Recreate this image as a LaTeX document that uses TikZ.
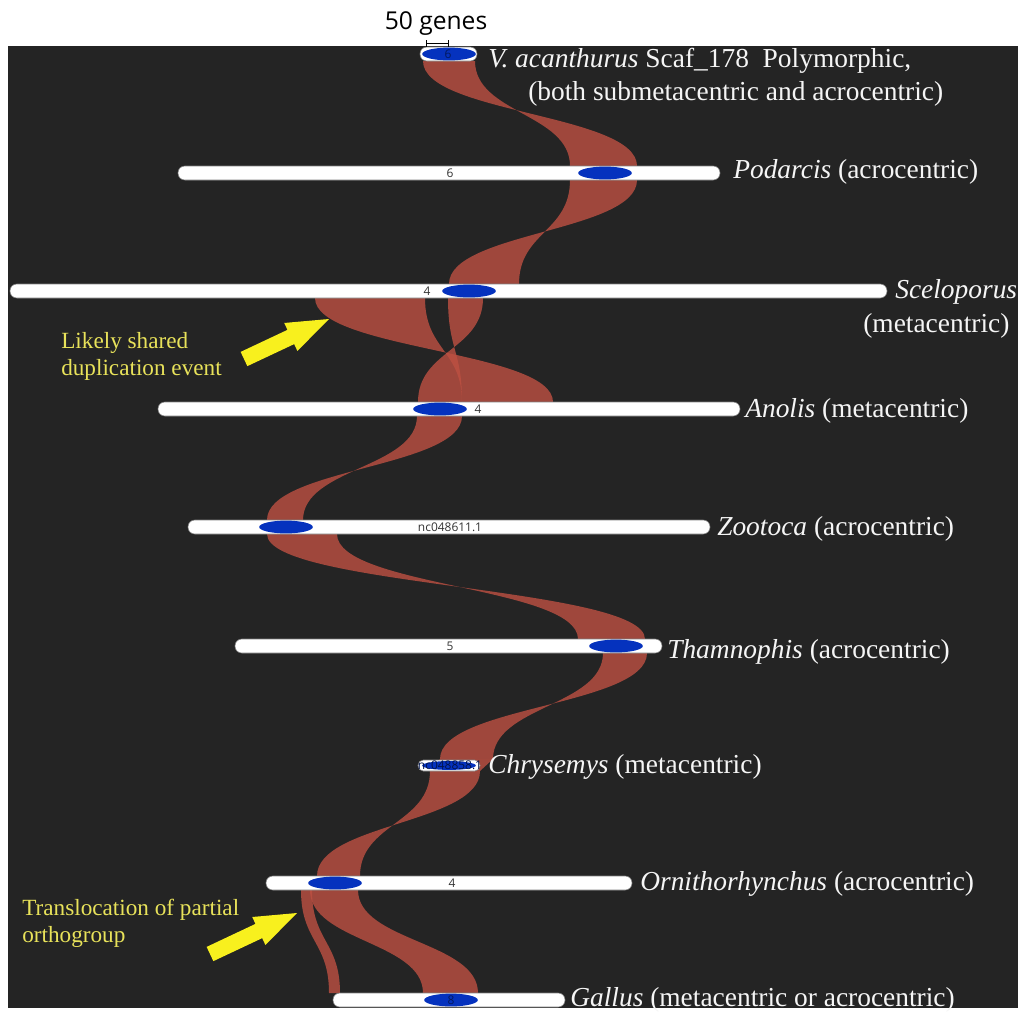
\documentclass[tikz,border=0pt]{standalone}
\usepackage{fontspec}
\setmainfont{Liberation Serif}
\newfontfamily\labfont{Open Sans}
\usetikzlibrary{calc}
\definecolor{bgc}{RGB}{36,36,36}
\definecolor{ribc}{RGB}{190,80,66}
\definecolor{ellc}{RGB}{5,50,190}
\definecolor{yelt}{RGB}{232,226,90}
\definecolor{yela}{RGB}{248,240,30}
\definecolor{spc}{RGB}{245,245,245}
\newcommand\ribbon[6]{%
  \fill[rib] (#1,#3) .. controls (#1,{(#3+#6)/2}) and (#4,{(#3+#6)/2}) .. (#4,#6)
    -- (#5,#6) .. controls (#5,{(#3+#6)/2}) and (#2,{(#3+#6)/2}) .. (#2,#3) -- cycle;}
\newcommand\chrom[5]{%
  \draw[barst] (#2,#4-7) rectangle (#3,#4+7);
  \fill[ell] (#5,#4) ellipse [x radius=0.67cm, y radius=0.16cm];
  \coordinate (#1) at ({(#2+#3)/2},#4);}
\newcommand\yarrow[2]{%
  \fill[yela] ($(#1)!5.6pt!-90:(#2)$) -- ($($(#2)!30pt!(#1)$)!5.6pt!-90:(#2)$)
    -- ($($(#2)!30pt!(#1)$)!11pt!-90:(#2)$) -- (#2)
    -- ($($(#2)!30pt!(#1)$)!11pt!90:(#2)$) -- ($($(#2)!30pt!(#1)$)!5.6pt!90:(#2)$)
    -- ($(#1)!5.6pt!90:(#2)$) -- cycle;}
\begin{document}
\begin{tikzpicture}[x=0.025cm,y=-0.025cm,
  rib/.style={fill=ribc, fill opacity=0.8},
  barst/.style={fill=white, draw=gray, line width=0.4pt, rounded corners=0.17cm},
  ell/.style={fill=ellc},
  lab/.style={font=\labfont\fontsize{8.5}{9}\selectfont, text=black!80, inner sep=0},
  sp/.style={text=spc, font=\fontsize{19.5}{23}\selectfont, anchor=base west, inner sep=0},
  note/.style={text=yelt, font=\fontsize{16.5}{20}\selectfont, anchor=base west, inner sep=0}]
\fill[white] (0,0) rectangle (1018,1010);
\fill[bgc] (8,46) rectangle (1018,1008);
% ribbons
\ribbon{423}{475}{61}{637}{570}{166}
\ribbon{570}{637}{180}{519}{449}{284}
\ribbon{315}{425}{298}{553}{462}{402}
\ribbon{448}{483}{298}{462}{418}{402}
\ribbon{417}{462}{416}{303}{267}{520}
\ribbon{267}{337}{534}{645}{578}{639}
\ribbon{603}{647}{653}{493}{440}{759}
\fill[rib] (440,759) -- (493,759) -- (480,771) -- (430,771) -- cycle;
\ribbon{430}{480}{771}{360}{317}{876}
\ribbon{310}{358}{890}{423}{478}{993}
\ribbon{301}{312}{890}{329}{340}{993}
% chromosomes
\chrom{vac}{420}{477}{54}{449}
\chrom{pod}{178}{720}{173}{605}
\chrom{sce}{10}{887}{291}{469}
\chrom{ano}{158}{740}{409}{440}
\chrom{zoo}{188}{710}{527}{286}
\chrom{tha}{235}{662}{646}{616}
\draw[barst, rounded corners=0.13cm] (418,760) rectangle (480,771);
\fill[ell] (449,765.5) ellipse [x radius=0.67cm, y radius=0.11cm];
\coordinate (chr) at (449,765.5);
\chrom{orn}{266}{632}{883}{335}
\chrom{gal}{333}{565}{1000}{451}
% bar labels
\node[lab, text=ellc!50!black] (vacl) at (448,54) {6};
\node[lab] (podl) at (450,173) {6};
\node[lab] (scel) at (427,291) {4};
\node[lab] (anol) at (478,409) {4};
\node[lab] (zool) at (450,527) {nc048611.1};
\node[lab] (thal) at (450,646) {5};
\node[lab, text=ellc!40!black] (chrl) at (450,765.5) {nc048858.1};
\node[lab] (ornl) at (452,883) {4};
\node[lab, text=ellc!50!black] (gall) at (451,1000) {8};
% scale bar
\draw[black, line width=0.6pt] (426,40) -- (426,47) (448,40) -- (448,47) (426,43.5) -- (448,43.5);
\node[font=\labfont\fontsize{17.5}{20}\selectfont, anchor=base, inner sep=0] (scale) at (436,29) {50 genes};
% species labels
\node[sp] (t1) at (488,67) {\textit{V. acanthurus} Scaf\_178\ \ Polymorphic,};
\node[sp] (t1b) at (528,100) {(both submetacentric and acrocentric)};
\node[sp] (t2) at (733,178) {\textit{Podarcis} (acrocentric)};
\node[sp] (t3) at (895,298) {\textit{Sceloporus}};
\node[sp] (t3b) at (863,332) {(metacentric)};
\node[sp] (t4) at (745,417) {\textit{Anolis} (metacentric)};
\node[sp] (t5) at (717,535) {\textit{Zootoca} (acrocentric)};
\node[sp] (t6) at (667,658) {\textit{Thamnophis} (acrocentric)};
\node[sp] (t7) at (488,773) {\textit{Chrysemys} (metacentric)};
\node[sp] (t8) at (640,890) {\textit{Ornithorhynchus} (acrocentric)};
\node[sp] (t9) at (570,1006) {\textit{Gallus} (metacentric or acrocentric)};
% annotations
\node[note] (n1) at (61,348) {Likely shared};
\node[note] (n1b) at (61,375) {duplication event};
\node[note] (n2) at (22,915) {Translocation of partial};
\node[note] (n2b) at (22,942) {orthogroup};
\coordinate (a1s) at (244,359);
\coordinate (a1e) at (329,319);
\coordinate (a2s) at (210,954);
\coordinate (a2e) at (297,913);
\yarrow{a1s}{a1e}
\yarrow{a2s}{a2e}
\end{tikzpicture}
\end{document}
